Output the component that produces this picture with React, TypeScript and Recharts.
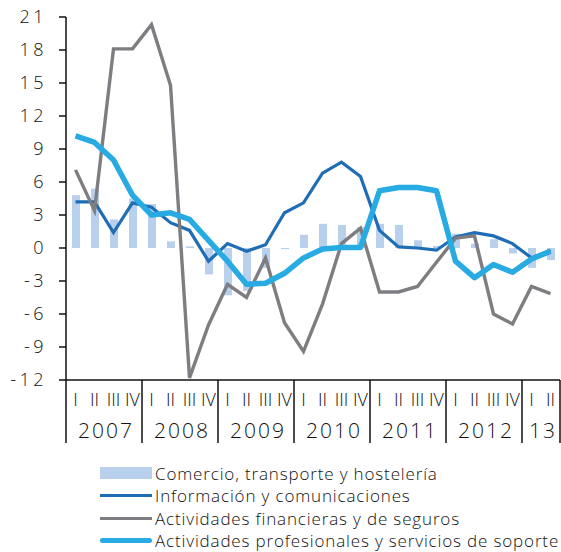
import React from "react";
import { ComposedChart, Bar, Line, XAxis, YAxis } from "recharts";

const quarters = [
  "I", "II", "III", "IV", "I", "II", "III", "IV", "I", "II", "III", "IV",
  "I", "II", "III", "IV", "I", "II", "III", "IV", "I", "II", "III", "IV",
  "I", "II",
];
const years = ["2007", "2007", "2007", "2007", "2008", "2008", "2008", "2008", "2009", "2009", "2009", "2009",
  "2010", "2010", "2010", "2010", "2011", "2011", "2011", "2011", "2012", "2012", "2012", "2012", "13", "13"];

const comercio = [4.8, 5.4, 2.6, 4.5, 4.0, 0.6, 0.15, -2.4, -4.3, -3.9, -1.8, -0.1, 1.2, 2.2, 2.1, 1.9, 2.2, 2.1, 0.7, 0.2, 1.3, 0.4, 0.8, -0.5, -1.8, -1.1];
const informacion = [4.2, 4.2, 1.4, 4.1, 3.7, 2.3, 1.6, -1.2, 0.4, -0.3, 0.3, 3.2, 4.1, 6.8, 7.8, 6.5, 1.6, 0.1, 0.0, -0.2, 1.0, 1.4, 1.1, 0.4, -0.9, -0.2];
const financieras = [7.1, 3.4, 18.1, 18.1, 20.3, 14.8, -11.8, -7.0, -3.3, -4.5, -0.9, -6.8, -9.4, -5.1, 0.4, 1.8, -4.0, -4.0, -3.5, -1.3, 0.9, 1.1, -6.0, -6.9, -3.5, -4.15];
const profesionales = [10.2, 9.6, 8.0, 4.8, 3.0, 3.2, 2.6, 0.7, -1.2, -3.3, -3.2, -2.3, -0.9, -0.1, 0.05, 0.05, 5.2, 5.5, 5.5, 5.2, -1.2, -2.7, -1.5, -2.2, -1.0, -0.3];
const yTicks = [-12, -9, -6, -3, 0, 3, 6, 9, 12, 15, 18, 21];

const seriesNames = [
  "Comercio, transporte y hostelería",
  "Información y comunicaciones",
  "Actividades financieras y de seguros",
  "Actividades profesionales y servicios de soporte",
];
const colors = ["#B8D0EC", "#1F6DB4", "#7D7D82", "#27ABE2"];

const data = quarters.map((q, i) => ({
  idx: i,
  q,
  year: years[i],
  comercio: comercio[i],
  informacion: informacion[i],
  financieras: financieras[i],
  profesionales: profesionales[i],
}));

const FONT = "'Open Sans', sans-serif";

const QuarterTick = (props: any) => {
  const { x, y, payload } = props;
  const i = payload.value as number;
  const bw = payload.offset ? payload.offset * 2 : 19;
  const base = y;
  const els: any[] = [];
  els.push(
    <text key="q" x={x} y={base + 26} textAnchor="middle" fontSize={18} fontWeight={300} fontFamily={FONT} fill="#111">
      {quarters[i]}
    </text>
  );
  const isFirst = i === 0 || years[i] !== years[i - 1];
  if (isFirst) {
    const nq = years.filter((yy) => yy === years[i]).length;
    const left = x - bw / 2;
    els.push(<line key="l" x1={left} y1={base} x2={left} y2={base + 63} stroke="#111" strokeWidth={1.5} />);
    els.push(
      <text key="y" x={left + (nq * bw) / 2 + 2} y={base + 58} textAnchor="middle" fontSize={21} fontWeight={300} letterSpacing={2} fontFamily={FONT} fill="#111">
        {years[i]}
      </text>
    );
  }
  if (i === quarters.length - 1) {
    const right = x + bw / 2;
    els.push(<line key="r" x1={right} y1={base} x2={right} y2={base + 63} stroke="#111" strokeWidth={1.5} />);
  }
  return <g>{els}</g>;
};

const YTick = (props: any) => {
  const { x, y, payload } = props;
  return (
    <text x={x + 3} y={y} dy="0.36em" textAnchor="end" fontSize={18} fontWeight={300} letterSpacing={3.5} fontFamily={FONT} fill="#111">
      {payload.value}
    </text>
  );
};

const Legend = () => (
  <div style={{ position: "absolute", left: 100, top: 462, fontFamily: FONT, fontSize: 17, fontWeight: 300, letterSpacing: 0.85, color: "#111" }}>
    {seriesNames.map((n, i) => (
      <div key={n} style={{ display: "flex", alignItems: "center", height: 22.5, whiteSpace: "nowrap" }}>
        <div
          style={{
            width: 52,
            height: i === 0 ? 12 : i === 3 ? 5 : 3,
            background: colors[i],
            borderRadius: i === 3 ? 3 : 0,
            marginRight: 3,
          }}
        />
        <span>{n}</span>
      </div>
    ))}
  </div>
);

export default function App() {
  return (
    <div style={{ position: "absolute", left: 0, top: 0, width: 561, height: 552, background: "#fff" }}>
      <ComposedChart
        width={561}
        height={552}
        data={data}
        margin={{ top: 17, right: 1, left: 0, bottom: 102 }}
        barCategoryGap={0}
      >
        <XAxis
          dataKey="idx"
          type="category"
          height={70}
          interval={0}
          tickLine={false}
          tickSize={0}
          tickMargin={0}
          axisLine={{ stroke: "#111", strokeWidth: 1.5 }}
          tick={<QuarterTick />}
        />
        <YAxis
          type="number"
          domain={[-12, 21]}
          ticks={yTicks}
          interval={0}
          width={66}
          tickSize={7}
          tickMargin={15}
          axisLine={{ stroke: "#111", strokeWidth: 1.5 }}
          tickLine={{ stroke: "#111", strokeWidth: 1.5 }}
          tick={<YTick />}
        />
        <Bar dataKey="comercio" fill={colors[0]} barSize={8} isAnimationActive={false} />
        <Line type="linear" dataKey="informacion" stroke={colors[1]} strokeWidth={3.2} dot={false} isAnimationActive={false} />
        <Line type="linear" dataKey="financieras" stroke={colors[2]} strokeWidth={3.4} dot={false} isAnimationActive={false} />
        <Line type="linear" dataKey="profesionales" stroke={colors[3]} strokeWidth={5.5} dot={false} strokeLinejoin="round" isAnimationActive={false} />
      </ComposedChart>
      <Legend />
    </div>
  );
}
